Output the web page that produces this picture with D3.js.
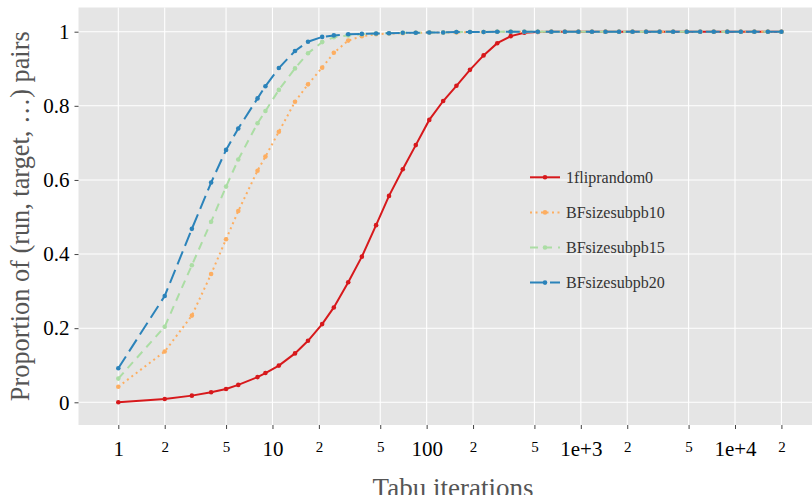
<!DOCTYPE html>
<html>
<head>
<meta charset="utf-8">
<script src="https://cdn.jsdelivr.net/npm/d3@7"></script>
<style>
body { margin: 0; background: #fff; }
svg { display: block; font-family: "Liberation Serif", "Times New Roman", serif; }
</style>
</head>
<body>
<div id="main"></div>
<script>
// tabu iterations (log grid, shared by every run)
const iterations = [1, 2, 3, 4, 5, 6, 8, 9, 11, 14, 17, 21, 25, 31, 38, 47, 57, 70, 85, 104,
  128, 156, 191, 234, 287, 351, 430, 526, 644, 788, 965, 1181, 1445, 1769, 2165, 2650,
  3244, 3971, 4860, 5949, 7282, 8913, 10910, 13354, 16345, 20000];

const fliprandom0 = [0.000, 0.009, 0.018, 0.027, 0.036, 0.047, 0.068, 0.079, 0.099, 0.132,
  0.166, 0.211, 0.256, 0.324, 0.393, 0.478, 0.557, 0.629, 0.694, 0.762,
  0.813, 0.854, 0.897, 0.936, 0.969, 0.988, 0.997, 0.999, 1, 1, 1, 1, 1, 1, 1, 1,
  1, 1, 1, 1, 1, 1, 1, 1, 1, 1];
const bfsizesubpb10 = [0.042, 0.137, 0.234, 0.346, 0.440, 0.516, 0.625, 0.663, 0.730, 0.811,
  0.858, 0.903, 0.943, 0.976, 0.988, 0.993, 0.995, 0.996, 0.997, 0.998,
  0.998, 0.998, 0.999, 0.999, 1, 1, 1, 1, 1, 1, 1, 1, 1, 1, 1, 1,
  1, 1, 1, 1, 1, 1, 1, 1, 1, 1];
const bfsizesubpb15 = [0.064, 0.204, 0.370, 0.487, 0.582, 0.655, 0.753, 0.786, 0.843, 0.901,
  0.942, 0.972, 0.985, 0.990, 0.993, 0.995, 0.996, 0.997, 0.997, 0.998,
  0.998, 0.999, 0.999, 0.999, 1, 1, 1, 1, 1, 1, 1, 1, 1, 1, 1, 1,
  1, 1, 1, 1, 1, 1, 1, 1, 1, 1];
const bfsizesubpb20 = [0.092, 0.287, 0.468, 0.593, 0.681, 0.739, 0.820, 0.853, 0.902, 0.948,
  0.973, 0.986, 0.990, 0.993, 0.994, 0.995, 0.996, 0.997, 0.997, 0.998,
  0.998, 0.999, 0.999, 0.999, 1, 1, 1, 1, 1, 1, 1, 1, 1, 1, 1, 1,
  1, 1, 1, 1, 1, 1, 1, 1, 1, 1];

const seriesNames = ["1fliprandom0", "BFsizesubpb10", "BFsizesubpb15", "BFsizesubpb20"];
const seriesValues = [fliprandom0, bfsizesubpb10, bfsizesubpb15, bfsizesubpb20];

const xTicks = [1, 2, 5, 10, 20, 50, 100, 200, 500, 1000, 2000, 5000, 10000, 20000];
const xTickLabels = ["1", "2", "5", "10", "2", "5", "100", "2", "5", "1e+3", "2", "5", "1e+4", "2"];
const yTicks = [0, 0.2, 0.4, 0.6, 0.8, 1];
const yTickLabels = ["0", "0.2", "0.4", "0.6", "0.8", "1"];

const ctx = {
    w: 812,
    h: 495,
    left: 78.5,
    right: 812,
    top: 7.5,
    bottom: 425,
};

// colour + linetype per run (solid, dotted, dashed, longdash)
const styles = [
    {color: "#d7191c", dash: null},
    {color: "#fdae61", dash: "2,3.5"},
    {color: "#abdda4", dash: "8,6"},
    {color: "#2b83ba", dash: "14,6"},
];

function createChart(svg) {
    const x = d3.scaleLog().domain([1, 1e4]).range([118.3, 735]);
    const y = d3.scaleLinear().domain([0, 1]).range([402.3, 31.7]);

    // panel
    svg.append("rect")
       .attr("x", ctx.left).attr("y", ctx.top)
       .attr("width", ctx.right - ctx.left).attr("height", ctx.bottom - ctx.top)
       .attr("fill", "#e5e5e5");

    let grid = svg.append("g").attr("stroke", "#fff").attr("stroke-width", 1.1);
    grid.selectAll(".vx").data(xTicks).enter().append("line")
        .attr("x1", d => x(d)).attr("x2", d => x(d))
        .attr("y1", ctx.top).attr("y2", ctx.bottom);
    grid.selectAll(".hy").data(yTicks).enter().append("line")
        .attr("x1", ctx.left).attr("x2", ctx.right)
        .attr("y1", d => y(d)).attr("y2", d => y(d));

    // axes
    let xAxis = svg.append("g")
        .attr("transform", `translate(0,${ctx.bottom})`)
        .call(d3.axisBottom(x).tickValues(xTicks)
              .tickFormat((d, i) => xTickLabels[i])
              .tickSize(4).tickPadding(12));
    xAxis.select(".domain").remove();
    xAxis.selectAll(".tick line").attr("stroke", "#444");
    xAxis.selectAll(".tick text")
         .attr("fill", "#000")
         .attr("font-family", "Liberation Serif")
         .attr("font-size", d => Number.isInteger(Math.log10(d)) ? 21 : 15);

    let yAxis = svg.append("g")
        .attr("transform", `translate(${ctx.left},0)`)
        .call(d3.axisLeft(y).tickValues(yTicks)
              .tickFormat((d, i) => yTickLabels[i])
              .tickSize(4).tickPadding(5));
    yAxis.select(".domain").remove();
    yAxis.selectAll(".tick line").attr("stroke", "#444");
    yAxis.selectAll(".tick text")
         .attr("fill", "#000")
         .attr("font-family", "Liberation Serif")
         .attr("font-size", 21);

    // lines + points
    const line = d3.line().x(d => x(d[0])).y(d => y(d[1]));
    seriesValues.forEach((vals, k) => {
        const pts = iterations.map((it, i) => [it, vals[i]]);
        const g = svg.append("g");
        g.append("path")
         .datum(pts)
         .attr("d", line)
         .attr("fill", "none")
         .attr("stroke", styles[k].color)
         .attr("stroke-width", 2)
         .attr("stroke-dasharray", styles[k].dash);
        g.selectAll("circle").data(pts).enter().append("circle")
         .attr("cx", d => x(d[0])).attr("cy", d => y(d[1]))
         .attr("r", 2.3)
         .attr("fill", styles[k].color);
    });

    // legend
    let legend = svg.append("g").attr("font-family", "Liberation Serif");
    seriesNames.forEach((name, k) => {
        const ly = 177.3 + k * 35.1;
        legend.append("line")
              .attr("x1", 530).attr("x2", 560).attr("y1", ly).attr("y2", ly)
              .attr("stroke", styles[k].color).attr("stroke-width", 2)
              .attr("stroke-dasharray", styles[k].dash);
        legend.append("circle")
              .attr("cx", 545).attr("cy", ly).attr("r", 2.3)
              .attr("fill", styles[k].color);
        legend.append("text")
              .attr("x", 566).attr("y", ly + 5.5)
              .attr("font-size", 16)
              .attr("fill", "#333")
              .text(name);
    });

    // titles
    svg.append("text")
       .attr("x", 453).attr("y", 497)
       .attr("text-anchor", "middle")
       .attr("font-family", "Liberation Serif")
       .attr("font-size", 27)
       .attr("fill", "#555")
       .text("Tabu iterations");
    svg.append("text")
       .attr("transform", `translate(28.5,${(ctx.top + ctx.bottom) / 2}) rotate(-90)`)
       .attr("text-anchor", "middle")
       .attr("font-family", "Liberation Serif")
       .attr("font-size", 26.3)
       .attr("fill", "#555")
       .text("Proportion of (run, target, …) pairs");
}

function createViz() {
    let svgEl = d3.select("#main").append("svg");
    svgEl.attr("width", ctx.w);
    svgEl.attr("height", ctx.h);
    createChart(svgEl);
}

createViz();
</script>
</body>
</html>
